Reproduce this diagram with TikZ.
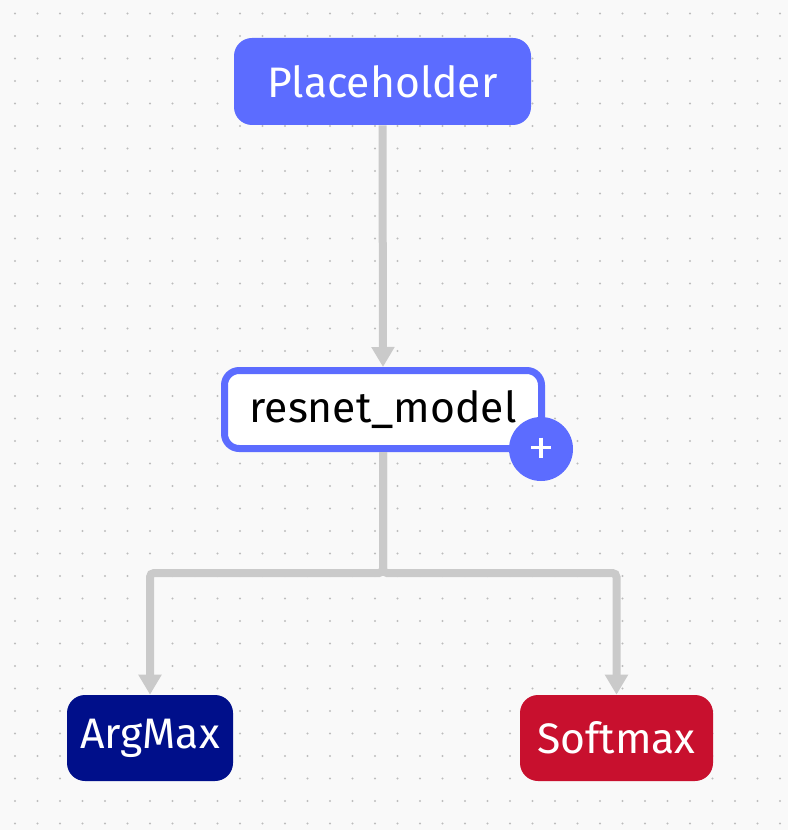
\documentclass[tikz,border=0pt]{standalone}
\usepackage{fontspec}
\setmainfont{Fira Sans}
\usetikzlibrary{arrows.meta}
\definecolor{bgc}{HTML}{F9F9F9}
\definecolor{dotc}{HTML}{BDBDBD}
\definecolor{periw}{HTML}{5C6CFF}
\definecolor{navyc}{HTML}{000F8A}
\definecolor{redc}{HTML}{C8102E}
\definecolor{wirec}{HTML}{CACACA}
\tikzset{
  opbox/.style={rounded corners=13.5pt, inner sep=0pt, font=\fontsize{32}{37}\selectfont, text=white, minimum height=64.5pt},
  wire/.style={draw=wirec, line width=6pt, rounded corners=3pt},
  arr/.style={-{Triangle[width=16.5pt,length=15pt]}},
}
\begin{document}
\begin{tikzpicture}[x=0.75pt,y=-0.75pt]
\fill[bgc] (0,0) rectangle (788,830);
\useasboundingbox (0,0) rectangle (788,830);
\foreach \i in {0,...,34}{
  \foreach \j in {0,...,36}{
    \fill[dotc] ({15+22.5*\i},{13.5+22.5*\j}) circle (0.9pt);
  }
}
\node[opbox, fill=periw, minimum width=222.75pt, minimum height=65.25pt] (ph) at (382.5,81.5) {Placeholder};
\node[opbox, fill=white, draw=periw, line width=5.25pt, text=black, minimum width=237.75pt, minimum height=58.5pt, rounded corners=11pt] (rn) at (383,409.5) {resnet\_model};
\node[opbox, fill=navyc, minimum width=124.5pt] (am) at (150,738) {ArgMax};
\node[opbox, fill=redc, minimum width=144.75pt] (sm) at (616.5,738) {Softmax};
\coordinate (split) at (383,573);
\node[circle, fill=periw, minimum size=48pt, inner sep=0pt] (badge) at (541,449) {};
\draw[white, line width=2.4pt] ([xshift=-7.5pt,yshift=1pt]badge.center) -- ([xshift=7.5pt,yshift=1pt]badge.center)
  ([yshift=8.5pt]badge.center) -- ([yshift=-6.5pt]badge.center);
\draw[wire, arr] (ph.south) -- (rn.north);
\draw[wire, arr] (rn.south) -- (split) -| (am.north);
\draw[wire, arr] (rn.south) -- (split) -| (sm.north);
\end{tikzpicture}
\end{document}
